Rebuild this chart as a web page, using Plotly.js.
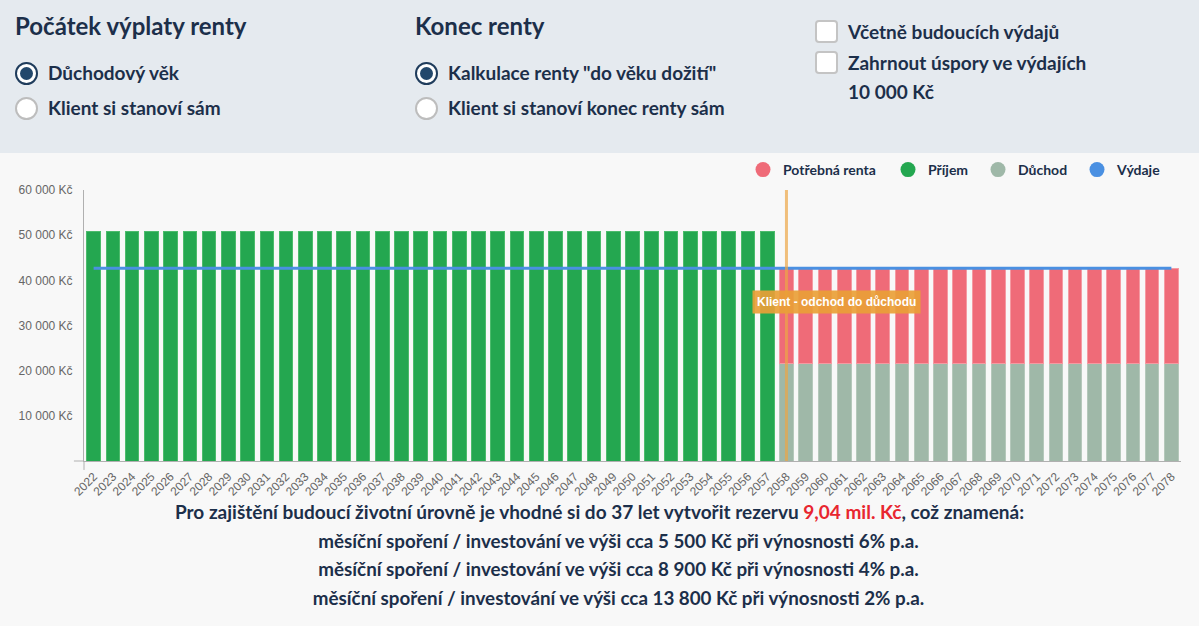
<!DOCTYPE html>
<html>
<head>
<meta charset="utf-8">
<script src="https://cdn.plot.ly/plotly-3.0.1.min.js"></script>
<style>
  html, body { margin:0; padding:0; background:#f8f8f8; }
  body { width:1199px; height:626px; position:relative; overflow:hidden; font-family: Lato, "Noto Sans", sans-serif; color:#1c2f4a; }
  #panel { position:absolute; left:0; top:0; width:1199px; height:153px; background:#e5eaef; }
  .h { position:absolute; font-weight:700; font-size:24px; white-space:nowrap; }
  .opt { position:absolute; font-weight:700; font-size:19px; white-space:nowrap; line-height:22px; }
  .radio { position:absolute; width:19px; height:19px; border-radius:50%; background:#fff; border:2px solid #bdbdbd; }
  .radio.on { border:2px solid #1f3c5c; }
  .radio.on::after { content:""; position:absolute; left:3px; top:3px; width:13px; height:13px; border-radius:50%; background:#23486c; }
  .cb { position:absolute; width:19px; height:19px; border-radius:4px; background:#fff; border:2px solid #c4c4c4; }
  #chart { position:absolute; left:0; top:153px; width:1199px; height:345px; }
  #summary { position:absolute; left:0; top:498px; width:1199px; text-align:center; font-weight:700; font-size:19px; line-height:28.7px; color:#1c2f4a; }
  #summary .sub { position:relative; left:19px; font-size:18.8px; }
  #summary .red { color:#e8262f; }
</style>
</head>
<body>
<div id="panel">
  <div class="h" style="left:15px;top:11px;">Počátek výplaty renty</div>
  <div class="radio on" style="left:15px;top:62px;"></div>
  <div class="opt" style="left:48px;top:62px;">Důchodový věk</div>
  <div class="radio" style="left:15px;top:97px;"></div>
  <div class="opt" style="left:48px;top:97px;">Klient si stanoví sám</div>

  <div class="h" style="left:415px;top:11px;">Konec renty</div>
  <div class="radio on" style="left:415px;top:62px;"></div>
  <div class="opt" style="left:448px;top:62px;">Kalkulace renty "do věku dožití"</div>
  <div class="radio" style="left:415px;top:97px;"></div>
  <div class="opt" style="left:448px;top:97px;">Klient si stanoví konec renty sám</div>

  <div class="cb" style="left:815px;top:20px;"></div>
  <div class="opt" style="left:848px;top:21px;">Včetně budoucích výdajů</div>
  <div class="cb" style="left:815px;top:51px;"></div>
  <div class="opt" style="left:848px;top:52px;">Zahrnout úspory ve výdajích</div>
  <div class="opt" style="left:848px;top:81px;">10 000 Kč</div>
</div>
<div id="chart"></div>
<div id="summary">
  <div>Pro zajištění budoucí životní úrovně je vhodné si do 37 let vytvořit rezervu <span class="red">9,04 mil. Kč</span>, což znamená:</div>
  <div class="sub">měsíční spoření / investování ve výši cca 5 500 Kč při výnosnosti 6% p.a.</div>
  <div class="sub">měsíční spoření / investování ve výši cca 8 900 Kč při výnosnosti 4% p.a.</div>
  <div class="sub">měsíční spoření / investování ve výši cca 13 800 Kč při výnosnosti 2% p.a.</div>
</div>
<script>
const years = ["2022","2023","2024","2025","2026","2027","2028","2029","2030","2031",
  "2032","2033","2034","2035","2036","2037","2038","2039","2040","2041",
  "2042","2043","2044","2045","2046","2047","2048","2049","2050","2051",
  "2052","2053","2054","2055","2056","2057","2058","2059","2060","2061",
  "2062","2063","2064","2065","2066","2067","2068","2069","2070","2071",
  "2072","2073","2074","2075","2076","2077","2078"];
const N = null;
const prijem = [50800,50800,50800,50800,50800,50800,50800,50800,50800,50800,
  50800,50800,50800,50800,50800,50800,50800,50800,50800,50800,
  50800,50800,50800,50800,50800,50800,50800,50800,50800,50800,
  50800,50800,50800,50800,50800,50800,N,N,N,N,
  N,N,N,N,N,N,N,N,N,N,
  N,N,N,N,N,N,N];
const duchod = [N,N,N,N,N,N,N,N,N,N,
  N,N,N,N,N,N,N,N,N,N,
  N,N,N,N,N,N,N,N,N,N,
  N,N,N,N,N,N,21500,21500,21500,21500,
  21500,21500,21500,21500,21500,21500,21500,21500,21500,21500,
  21500,21500,21500,21500,21500,21500,21500];
const potrebnaRenta = [N,N,N,N,N,N,N,N,N,N,
  N,N,N,N,N,N,N,N,N,N,
  N,N,N,N,N,N,N,N,N,N,
  N,N,N,N,N,N,21200,21200,21200,21200,
  21200,21200,21200,21200,21200,21200,21200,21200,21200,21200,
  21200,21200,21200,21200,21200,21200,21200];
const vydaje = [42700,42700,42700,42700,42700,42700,42700,42700,42700,42700,
  42700,42700,42700,42700,42700,42700,42700,42700,42700,42700,
  42700,42700,42700,42700,42700,42700,42700,42700,42700,42700,
  42700,42700,42700,42700,42700,42700,42700,42700,42700,42700,
  42700,42700,42700,42700,42700,42700,42700,42700,42700,42700,
  42700,42700,42700,42700,42700,42700,42700];
const yTickVals = [10000,20000,30000,40000,50000,60000];
const yTickText = ["10 000 Kč","20 000 Kč","30 000 Kč","40 000 Kč","50 000 Kč","60 000 Kč"];
const retirementYear = "2058";
const retirementLabel = "Klient - odchod do důchodu";
const legendNames = ["Potřebná renta","Příjem","Důchod","Výdaje"];

const C = {red:"#ef6b78", green:"#24a750", gray:"#9fb8a8", blue:"#4a90e2"};
const legendColors = [C.red, C.green, C.gray, C.blue];
const legendIds = ["legend","legend2","legend3","legend4"];
const legendRightPx = [881, 974, 1073, 1167];
const retIdx = years.indexOf(retirementYear);

const traces = [
  {type:"bar", x:years, y:prijem, name:"Příjem", marker:{color:C.green, line:{color:"#4cbb6c", width:1}}, showlegend:false, hoverinfo:"skip"},
  {type:"bar", x:years, y:duchod, name:"Důchod", marker:{color:C.gray, line:{color:"#b5c8bb", width:1}}, showlegend:false, hoverinfo:"skip"},
  {type:"bar", x:years, y:potrebnaRenta, name:"Potřebná renta", marker:{color:C.red, line:{color:"#f59aa2", width:1}}, showlegend:false, hoverinfo:"skip"},
  {type:"scatter", mode:"lines", x:years, y:vydaje, name:"Výdaje", line:{color:C.blue, width:3}, showlegend:false, hoverinfo:"skip"}
];
legendNames.forEach((nm, i) => {
  traces.push({type:"scatter", mode:"markers", x:[null], y:[null], name:nm, legend:legendIds[i],
    marker:{color:legendColors[i], size:15, symbol:"circle"}});
});

const layout = {
  width:1199, height:345,
  margin:{l:84, r:18, t:37, b:37},
  paper_bgcolor:"#f8f8f8", plot_bgcolor:"#f8f8f8",
  barmode:"stack", bargap:0.29,
  font:{family:"Liberation Sans, Arial, sans-serif", size:12, color:"#666"},
  xaxis:{type:"category", range:[-0.5, 56.5], showgrid:false, zeroline:false,
    showline:true, linecolor:"#b0b0b0", linewidth:1,
    tickangle:-45, ticks:"outside", ticklen:3, tickcolor:"rgba(0,0,0,0)",
    tickfont:{family:"Liberation Sans, Arial, sans-serif", size:12, color:"#666"}, fixedrange:true},
  yaxis:{range:[0,60000], tickvals:yTickVals, ticktext:yTickText, showgrid:false, zeroline:false,
    showline:true, linecolor:"#b0b0b0", linewidth:1,
    ticks:"outside", ticklen:8, tickcolor:"rgba(0,0,0,0)",
    tickfont:{family:"Liberation Sans, Arial, sans-serif", size:12, color:"#666"}, fixedrange:true},
  showlegend:true,
  shapes:[
    {type:"line", xref:"x", yref:"paper", x0:retIdx, x1:retIdx, y0:0, y1:1,
     line:{color:"rgba(236,165,70,0.7)", width:3}},
    {type:"line", xref:"paper", yref:"paper", x0:-0.0092, x1:0, y0:0, y1:0,
     line:{color:"#b0b0b0", width:1}},
    {type:"line", xref:"paper", yref:"paper", x0:0, x1:0, y0:-0.033, y1:0,
     line:{color:"#b0b0b0", width:1}}
  ],
  annotations:[
    {x:retIdx, y:35100, xref:"x", yref:"y", text:"<b>" + retirementLabel + "</b>", showarrow:false,
     xshift:50, bgcolor:"rgba(233,160,55,0.92)", borderpad:4,
     font:{family:"Liberation Sans, Arial, sans-serif", size:12, color:"#ffffff"}}
  ]
};
legendIds.forEach((id, i) => {
  layout[id] = {orientation:"h", xref:"container", yref:"container",
    x:legendRightPx[i]/1199, xanchor:"right", y:1 - 17/345, yanchor:"middle",
    font:{family:"Lato, sans-serif", size:14, color:"#1c2f4a", weight:700},
    bgcolor:"rgba(0,0,0,0)", itemclick:false, itemdoubleclick:false};
});

Plotly.newPlot("chart", traces, layout, {displayModeBar:false, staticPlot:true});
</script>
</body>
</html>
